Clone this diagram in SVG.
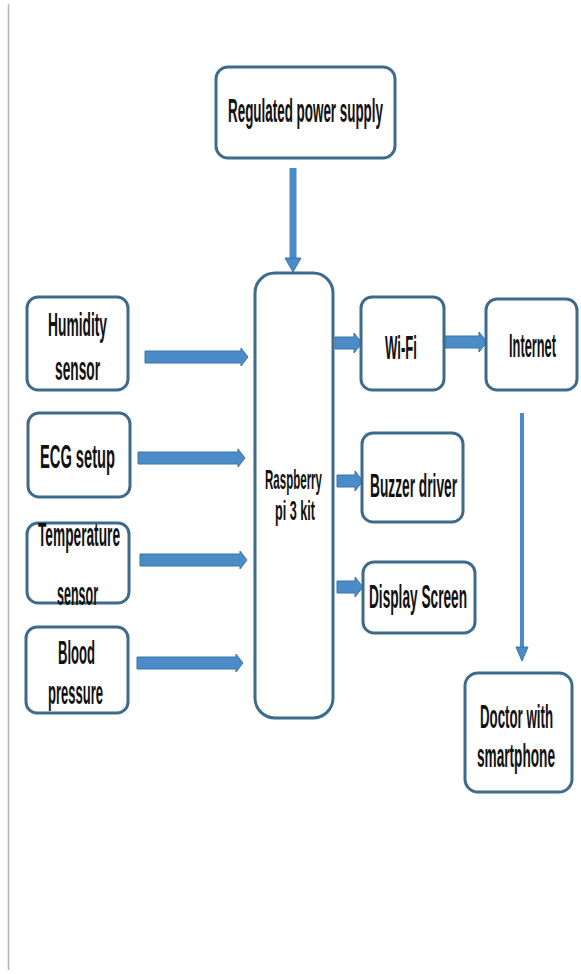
<svg xmlns="http://www.w3.org/2000/svg" width="581" height="974" viewBox="0 0 581 974">
<style>
.box{fill:#ffffff;stroke:#3e6b8a;stroke-width:3}
.t{font-family:"Liberation Sans",Arial,sans-serif;font-size:34px;font-weight:bold;fill:#111;text-anchor:middle}
.s{font-size:27px}
.arr{fill:#4a8bc8;stroke:#3a74a8;stroke-width:1}
.ln{stroke:#4a8bc8;fill:none}
</style>
<rect width="581" height="974" fill="#ffffff"/>
<line x1="8.5" y1="4" x2="8.5" y2="970" stroke="#b4b4b4" stroke-width="1.5"/>

<g id="connectors">
  <line class="ln" x1="293" y1="168" x2="293" y2="260" stroke-width="7"/>
  <polygon class="arr" points="285,258 301,258 293,272"/>
  <line class="ln" x1="522" y1="413" x2="522" y2="650" stroke-width="4"/>
  <polygon class="arr" points="516,647 528,647 522,661"/>
  <path class="arr" d="M145,351 H241 V348 L248,357 L241,366 V363 H145 Z"/>
  <path class="arr" d="M138,452 H238 V449 L245,458 L238,467 V464 H138 Z"/>
  <path class="arr" d="M140,554 H240 V551 L247,560 L240,569 V566 H140 Z"/>
  <path class="arr" d="M137,657 H236 V654 L243,663 L236,672 V669 H137 Z"/>
  <path class="arr" d="M335,337 H354 V333 L362,343 L354,353 V349 H335 Z"/>
  <path class="arr" d="M444,336 H479 V332 L487,342 L479,352 V348 H444 Z"/>
  <path class="arr" d="M337,475 H355 V471 L363,481 L355,491 V487 H337 Z"/>
  <path class="arr" d="M337,581 H355 V577 L363,587 L355,597 V593 H337 Z"/>
</g>

<g id="power">
  <rect class="box" x="216" y="67" width="179" height="91" rx="12"/>
  <text class="t" transform="translate(305.5,122) scale(0.5,1)" textLength="310" lengthAdjust="spacingAndGlyphs">Regulated power supply</text>
</g>
<g id="humidity">
  <rect class="box" x="27" y="297" width="101" height="93" rx="11"/>
  <text class="t" transform="translate(77.5,336) scale(0.5,1)" textLength="118" lengthAdjust="spacingAndGlyphs">Humidity</text>
  <text class="t" transform="translate(77.5,380) scale(0.5,1)" textLength="90" lengthAdjust="spacingAndGlyphs">sensor</text>
</g>
<g id="ecg">
  <rect class="box" x="28" y="413" width="102" height="84" rx="11"/>
  <text class="t" transform="translate(77.5,468) scale(0.5,1)" textLength="150" lengthAdjust="spacingAndGlyphs">ECG setup</text>
</g>
<g id="temperature">
  <rect class="box" x="27" y="523" width="102" height="80" rx="11"/>
  <text class="t" transform="translate(79,546) scale(0.5,1)" textLength="164" lengthAdjust="spacingAndGlyphs">Temperature</text>
  <text class="t" transform="translate(77.5,605) scale(0.5,1)" textLength="82" lengthAdjust="spacingAndGlyphs">sensor</text>
</g>
<g id="blood">
  <rect class="box" x="26" y="627" width="102" height="86" rx="11"/>
  <text class="t" transform="translate(76.5,664) scale(0.5,1)" textLength="74" lengthAdjust="spacingAndGlyphs">Blood</text>
  <text class="t" transform="translate(75.5,704) scale(0.5,1)" textLength="110" lengthAdjust="spacingAndGlyphs">pressure</text>
</g>
<g id="raspberry">
  <rect class="box" x="255" y="273" width="78" height="445" rx="20"/>
  <text class="t s" transform="translate(293.5,489) scale(0.5,1)" textLength="114" lengthAdjust="spacingAndGlyphs">Raspberry</text>
  <text class="t s" transform="translate(295,520) scale(0.5,1)" textLength="80" lengthAdjust="spacingAndGlyphs">pi 3 kit</text>
</g>
<g id="wifi">
  <rect class="box" x="361" y="297" width="83" height="93" rx="11"/>
  <text class="t" transform="translate(401,359) scale(0.5,1)" textLength="64" lengthAdjust="spacingAndGlyphs">Wi-Fi</text>
</g>
<g id="internet">
  <rect class="box" x="486" y="299" width="91" height="91" rx="11"/>
  <text class="t" transform="translate(532.5,357) scale(0.5,1)" textLength="94" lengthAdjust="spacingAndGlyphs">Internet</text>
</g>
<g id="buzzer">
  <rect class="box" x="362" y="433" width="101" height="89" rx="11"/>
  <text class="t" transform="translate(413.5,497) scale(0.5,1)" textLength="174" lengthAdjust="spacingAndGlyphs">Buzzer driver</text>
</g>
<g id="display">
  <rect class="box" x="363" y="562" width="112" height="71" rx="11"/>
  <text class="t" transform="translate(418,608) scale(0.5,1)" textLength="196" lengthAdjust="spacingAndGlyphs">Display Screen</text>
</g>
<g id="doctor">
  <rect class="box" x="465" y="673" width="107" height="119" rx="13"/>
  <text class="t" transform="translate(516.5,728) scale(0.5,1)" textLength="146" lengthAdjust="spacingAndGlyphs">Doctor with</text>
  <text class="t" transform="translate(516,767) scale(0.5,1)" textLength="156" lengthAdjust="spacingAndGlyphs">smartphone</text>
</g>
</svg>
